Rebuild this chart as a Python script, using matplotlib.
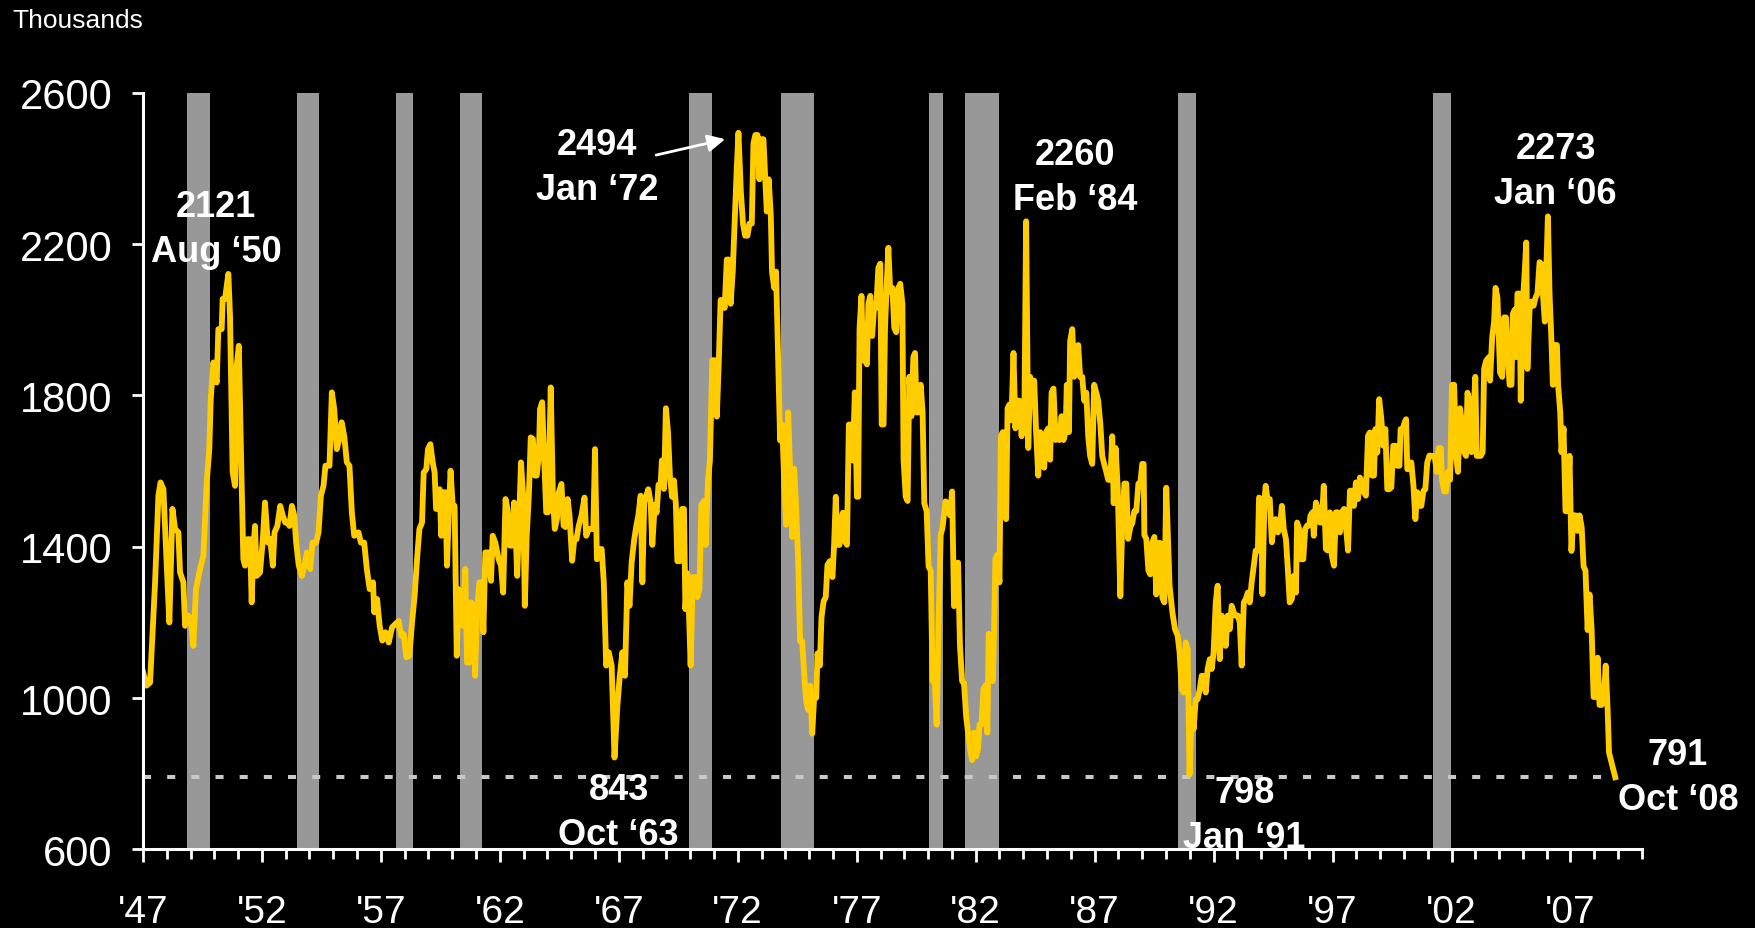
import matplotlib.pyplot as plt
import matplotlib.transforms as mtransforms
import numpy as np

# Housing starts, thousands: (decimal year, value)
starts_47_57 = [
    (1947.01, 1068), (1947.15, 1033), (1947.30, 1041), (1947.51, 1306), (1947.65, 1535),
    (1947.74, 1570), (1947.86, 1552), (1947.97, 1394), (1948.11, 1200), (1948.24, 1500),
    (1948.35, 1447), (1948.49, 1438), (1948.56, 1332), (1948.70, 1306), (1948.77, 1191),
    (1948.91, 1218), (1949.01, 1210), (1949.12, 1138), (1949.23, 1288), (1949.40, 1341),
    (1949.54, 1376), (1949.68, 1570), (1949.79, 1658), (1949.85, 1790), (1949.96, 1887),
    (1950.10, 1834), (1950.17, 1975), (1950.31, 1975), (1950.35, 2055), (1950.45, 2055),
    (1950.59, 2121), (1950.66, 2011), (1950.77, 1597), (1950.87, 1561), (1950.94, 1878),
    (1951.03, 1931), (1951.13, 1623), (1951.22, 1367), (1951.29, 1350), (1951.39, 1420),
    (1951.50, 1420), (1951.57, 1253), (1951.64, 1394), (1951.71, 1455), (1951.78, 1323),
    (1951.92, 1332), (1952.04, 1420), (1952.13, 1517), (1952.25, 1411), (1952.35, 1420),
    (1952.46, 1350), (1952.53, 1438), (1952.65, 1455), (1952.77, 1508), (1952.88, 1482),
    (1952.98, 1464), (1953.07, 1464), (1953.16, 1455), (1953.26, 1508), (1953.36, 1482),
    (1953.44, 1411), (1953.55, 1350), (1953.68, 1323), (1953.79, 1350), (1953.89, 1385),
    (1954.03, 1341), (1954.13, 1411), (1954.28, 1411), (1954.38, 1438), (1954.48, 1535),
    (1954.59, 1561), (1954.67, 1614), (1954.84, 1614), (1954.94, 1808), (1955.04, 1764),
    (1955.15, 1658), (1955.25, 1685), (1955.35, 1729), (1955.46, 1693), (1955.57, 1623),
    (1955.68, 1614), (1955.78, 1491), (1955.88, 1429), (1956.06, 1438), (1956.16, 1411),
    (1956.30, 1411), (1956.41, 1341), (1956.53, 1288), (1956.67, 1306), (1956.72, 1227),
    (1956.84, 1262), (1956.95, 1191), (1957.06, 1152), (1957.19, 1174), (1957.33, 1147),
    (1957.47, 1187), (1957.61, 1196), (1957.75, 1204), (1957.85, 1165),
]
starts_58_68 = [
    (1957.96, 1169), (1958.07, 1108), (1958.20, 1112), (1958.31, 1200), (1958.42, 1271),
    (1958.52, 1367), (1958.62, 1447), (1958.73, 1464), (1958.80, 1596), (1958.91, 1605),
    (1958.98, 1658), (1959.08, 1671), (1959.18, 1623), (1959.26, 1596), (1959.32, 1500),
    (1959.40, 1500), (1959.47, 1552), (1959.54, 1429), (1959.61, 1544), (1959.71, 1544),
    (1959.78, 1350), (1959.85, 1482), (1959.93, 1601), (1960.02, 1508), (1960.10, 1508),
    (1960.19, 1112), (1960.27, 1288), (1960.36, 1271), (1960.45, 1191), (1960.55, 1341),
    (1960.62, 1094), (1960.72, 1094), (1960.80, 1253), (1960.89, 1244), (1960.96, 1059),
    (1961.04, 1227), (1961.14, 1306), (1961.23, 1306), (1961.31, 1174), (1961.39, 1385),
    (1961.53, 1385), (1961.63, 1310), (1961.70, 1429), (1961.81, 1411), (1961.95, 1367),
    (1962.05, 1350), (1962.14, 1279), (1962.24, 1526), (1962.32, 1500), (1962.42, 1403),
    (1962.52, 1403), (1962.60, 1517), (1962.66, 1447), (1962.73, 1323), (1962.80, 1447),
    (1962.89, 1623), (1962.98, 1535), (1963.05, 1244), (1963.13, 1429), (1963.22, 1535),
    (1963.30, 1689), (1963.39, 1685), (1963.47, 1588), (1963.55, 1588), (1963.64, 1640),
    (1963.69, 1764), (1963.78, 1782), (1963.86, 1640), (1963.95, 1491), (1964.03, 1491),
    (1964.14, 1821), (1964.23, 1535), (1964.31, 1447), (1964.40, 1473), (1964.48, 1544),
    (1964.59, 1566), (1964.68, 1456), (1964.76, 1452), (1964.85, 1526), (1964.93, 1482),
    (1965.04, 1363), (1965.13, 1420), (1965.22, 1420), (1965.32, 1456), (1965.43, 1482),
    (1965.56, 1530), (1965.63, 1429), (1965.74, 1447), (1965.86, 1447), (1965.93, 1447),
    (1966.00, 1658), (1966.08, 1367), (1966.16, 1394), (1966.28, 1394), (1966.37, 1306),
    (1966.47, 1086), (1966.58, 1121), (1966.70, 1086), (1966.82, 843), (1966.94, 980),
    (1967.03, 1050), (1967.15, 1121), (1967.26, 1059), (1967.36, 1306), (1967.45, 1244),
    (1967.54, 1359), (1967.65, 1420), (1967.74, 1456), (1967.82, 1482), (1967.92, 1535),
    (1967.99, 1306), (1968.07, 1517), (1968.16, 1535), (1968.24, 1552), (1968.34, 1517),
]
starts_68_79 = [
    (1968.41, 1405), (1968.51, 1511), (1968.59, 1490), (1968.67, 1564), (1968.76, 1564),
    (1968.81, 1628), (1968.90, 1553), (1968.98, 1766), (1969.07, 1702), (1969.15, 1585),
    (1969.24, 1532), (1969.32, 1575), (1969.40, 1511), (1969.46, 1362), (1969.57, 1362),
    (1969.66, 1500), (1969.74, 1500), (1969.80, 1235), (1969.88, 1330), (1969.95, 1224),
    (1970.02, 1086), (1970.11, 1320), (1970.20, 1320), (1970.30, 1267), (1970.39, 1288),
    (1970.47, 1511), (1970.58, 1521), (1970.65, 1405), (1970.75, 1575), (1970.83, 1628),
    (1970.93, 1893), (1971.03, 1893), (1971.12, 1744), (1971.20, 1882), (1971.28, 2052),
    (1971.37, 2052), (1971.45, 2031), (1971.54, 2159), (1971.62, 2159), (1971.70, 2042),
    (1971.79, 2127), (1971.87, 2254), (1971.96, 2403), (1972.03, 2494), (1972.13, 2339),
    (1972.22, 2254), (1972.31, 2222), (1972.41, 2222), (1972.49, 2254), (1972.59, 2254),
    (1972.66, 2466), (1972.74, 2488), (1972.83, 2488), (1972.91, 2371), (1972.99, 2477),
    (1973.08, 2477), (1973.16, 2371), (1973.22, 2286), (1973.30, 2371), (1973.39, 2275),
    (1973.44, 2127), (1973.53, 2084), (1973.61, 2127), (1973.70, 1893), (1973.78, 1681),
    (1973.87, 1723), (1973.95, 1575), (1974.03, 1458), (1974.12, 1755), (1974.20, 1606),
    (1974.29, 1426), (1974.37, 1606), (1974.45, 1511), (1974.54, 1362), (1974.62, 1150),
    (1974.71, 1150), (1974.79, 1065), (1974.88, 990), (1974.96, 969), (1975.04, 1033),
    (1975.13, 906), (1975.21, 1001), (1975.30, 1001), (1975.35, 1118), (1975.45, 1086),
    (1975.52, 1214), (1975.61, 1256), (1975.70, 1267), (1975.77, 1352), (1975.87, 1362),
    (1975.98, 1320), (1976.05, 1405), (1976.12, 1532), (1976.19, 1405), (1976.28, 1405),
    (1976.33, 1468), (1976.42, 1490), (1976.50, 1415), (1976.59, 1405), (1976.67, 1723),
    (1976.76, 1723), (1976.84, 1628), (1976.92, 1808), (1977.01, 1532), (1977.06, 1532),
    (1977.12, 1978), (1977.20, 2063), (1977.26, 1893), (1977.34, 1893), (1977.43, 1882),
    (1977.49, 2042), (1977.57, 2063), (1977.65, 1957), (1977.74, 2042), (1977.82, 2031),
    (1977.91, 2137), (1977.99, 2148), (1978.05, 1723), (1978.13, 1723), (1978.19, 1978),
    (1978.27, 2105), (1978.33, 2190), (1978.41, 2074), (1978.50, 2084), (1978.58, 1978),
    (1978.66, 1967), (1978.75, 2084), (1978.83, 2095), (1978.92, 2042), (1978.97, 1628),
    (1979.06, 1532), (1979.14, 1521),
]
starts_79_90 = [
    (1979.21, 1849), (1979.30, 1745), (1979.38, 1901), (1979.45, 1912), (1979.52, 1755),
    (1979.60, 1755), (1979.69, 1828), (1979.77, 1755), (1979.84, 1515), (1979.94, 1494),
    (1980.02, 1348), (1980.11, 1337), (1980.19, 1045), (1980.28, 1045), (1980.36, 930),
    (1980.45, 1222), (1980.53, 1431), (1980.61, 1452), (1980.73, 1520), (1980.84, 1515),
    (1980.92, 1483), (1981.01, 1546), (1981.09, 1243), (1981.18, 1253), (1981.26, 1358),
    (1981.34, 1139), (1981.43, 1045), (1981.51, 1039), (1981.60, 951), (1981.68, 909),
    (1981.76, 867), (1981.85, 836), (1981.93, 909), (1982.02, 846), (1982.10, 867),
    (1982.16, 930), (1982.24, 930), (1982.33, 1024), (1982.41, 1034), (1982.49, 909),
    (1982.55, 1170), (1982.63, 1159), (1982.72, 1045), (1982.77, 1170), (1982.83, 1368),
    (1982.91, 1379), (1983.00, 1306), (1983.06, 1692), (1983.14, 1703), (1983.21, 1504),
    (1983.28, 1473), (1983.34, 1766), (1983.42, 1776), (1983.50, 1734), (1983.59, 1912),
    (1983.67, 1713), (1983.76, 1786), (1983.84, 1786), (1983.93, 1692), (1983.98, 1734),
    (1984.05, 1766), (1984.12, 2260), (1984.21, 1661), (1984.29, 1849), (1984.37, 1828),
    (1984.46, 1839), (1984.54, 1703), (1984.63, 1588), (1984.71, 1703), (1984.79, 1692),
    (1984.88, 1609), (1984.96, 1703), (1985.05, 1713), (1985.13, 1630), (1985.19, 1807),
    (1985.27, 1818), (1985.36, 1682), (1985.44, 1703), (1985.52, 1682), (1985.61, 1745),
    (1985.69, 1682), (1985.78, 1703), (1985.83, 1828), (1985.92, 1703), (1985.97, 1943),
    (1986.06, 1975), (1986.14, 1849), (1986.23, 1870), (1986.31, 1933), (1986.39, 1849),
    (1986.48, 1849), (1986.56, 1786), (1986.65, 1807), (1986.73, 1692), (1986.81, 1640),
    (1986.90, 1619), (1986.98, 1828), (1987.07, 1807), (1987.15, 1786), (1987.24, 1724),
    (1987.32, 1640), (1987.40, 1619), (1987.49, 1598), (1987.57, 1577), (1987.66, 1577),
    (1987.74, 1692), (1987.80, 1515), (1987.88, 1661), (1987.97, 1556), (1988.08, 1269),
    (1988.16, 1452), (1988.25, 1567), (1988.33, 1567), (1988.41, 1421), (1988.50, 1452),
    (1988.58, 1462), (1988.67, 1494), (1988.75, 1494), (1988.84, 1567), (1988.92, 1567),
    (1989.00, 1619), (1989.06, 1619), (1989.09, 1431), (1989.17, 1421), (1989.26, 1337),
    (1989.34, 1327), (1989.42, 1410), (1989.51, 1426), (1989.59, 1274), (1989.68, 1410),
    (1989.76, 1410), (1989.85, 1264), (1989.93, 1253), (1990.01, 1556),
]
starts_90_01 = [
    (1990.15, 1297), (1990.27, 1226), (1990.38, 1182), (1990.49, 1165), (1990.57, 1121),
    (1990.66, 1024), (1990.74, 1015), (1990.83, 1147), (1990.91, 1130), (1990.99, 798),
    (1991.08, 971), (1991.16, 918), (1991.25, 997), (1991.33, 997), (1991.42, 1024),
    (1991.50, 1059), (1991.58, 1059), (1991.67, 1015), (1991.75, 1077), (1991.84, 1103),
    (1991.92, 1077), (1992.00, 1121), (1992.09, 1253), (1992.17, 1297), (1992.26, 1103),
    (1992.34, 1218), (1992.43, 1200), (1992.51, 1138), (1992.59, 1218), (1992.68, 1182),
    (1992.76, 1244), (1992.85, 1226), (1992.93, 1218), (1993.02, 1218), (1993.10, 1200),
    (1993.18, 1086), (1993.27, 1253), (1993.35, 1262), (1993.44, 1279), (1993.52, 1253),
    (1993.60, 1306), (1993.69, 1350), (1993.77, 1390), (1993.86, 1390), (1993.91, 1530),
    (1994.00, 1526), (1994.05, 1275), (1994.14, 1526), (1994.19, 1561), (1994.28, 1517),
    (1994.36, 1526), (1994.45, 1412), (1994.53, 1464), (1994.61, 1473), (1994.70, 1438),
    (1994.78, 1447), (1994.87, 1508), (1994.95, 1447), (1995.04, 1420), (1995.12, 1341),
    (1995.20, 1253), (1995.29, 1262), (1995.37, 1323), (1995.46, 1279), (1995.51, 1464),
    (1995.60, 1447), (1995.68, 1367), (1995.77, 1367), (1995.85, 1447), (1995.93, 1456),
    (1996.02, 1456), (1996.07, 1482), (1996.16, 1491), (1996.21, 1429), (1996.30, 1517),
    (1996.38, 1500), (1996.47, 1464), (1996.55, 1464), (1996.63, 1561), (1996.72, 1394),
    (1996.80, 1390), (1996.89, 1491), (1996.97, 1376), (1997.06, 1350), (1997.14, 1491),
    (1997.22, 1491), (1997.31, 1438), (1997.39, 1491), (1997.48, 1500), (1997.56, 1456),
    (1997.65, 1390), (1997.73, 1548), (1997.81, 1548), (1997.90, 1508), (1997.98, 1570),
    (1998.07, 1526), (1998.15, 1583), (1998.23, 1570), (1998.32, 1544), (1998.40, 1535),
    (1998.49, 1693), (1998.57, 1702), (1998.66, 1588), (1998.74, 1588), (1998.80, 1711),
    (1998.88, 1649), (1998.96, 1790), (1999.05, 1737), (1999.13, 1667), (1999.22, 1711),
    (1999.30, 1552), (1999.38, 1552), (1999.47, 1557), (1999.55, 1667), (1999.64, 1667),
    (1999.72, 1614), (1999.81, 1614), (1999.86, 1711), (1999.95, 1711), (2000.03, 1729),
    (2000.09, 1737), (2000.14, 1605), (2000.23, 1605), (2000.31, 1623), (2000.40, 1561),
    (2000.48, 1473), (2000.56, 1544), (2000.65, 1508), (2000.73, 1508), (2000.82, 1548),
    (2000.90, 1552), (2000.98, 1623), (2001.07, 1641),
]
starts_01_08 = [
    (2001.21, 1640), (2001.29, 1640), (2001.38, 1598), (2001.46, 1661), (2001.55, 1661),
    (2001.60, 1577), (2001.69, 1546), (2001.77, 1546), (2001.85, 1598), (2001.94, 1577),
    (2002.02, 1828), (2002.11, 1828), (2002.19, 1640), (2002.27, 1598), (2002.36, 1766),
    (2002.44, 1724), (2002.53, 1650), (2002.61, 1640), (2002.67, 1807), (2002.75, 1786),
    (2002.84, 1650), (2002.92, 1745), (2003.00, 1849), (2003.06, 1640), (2003.14, 1640),
    (2003.23, 1640), (2003.31, 1650), (2003.37, 1870), (2003.45, 1891), (2003.57, 1901),
    (2003.62, 1839), (2003.71, 1954), (2003.79, 1995), (2003.85, 2084), (2003.93, 2058),
    (2003.99, 1954), (2004.04, 1860), (2004.13, 1849), (2004.21, 2006), (2004.29, 2006),
    (2004.35, 1922), (2004.44, 1828), (2004.52, 1828), (2004.58, 2016), (2004.66, 2027),
    (2004.72, 1901), (2004.77, 2069), (2004.86, 2069), (2004.91, 1786), (2005.00, 2048),
    (2005.08, 2131), (2005.14, 2204), (2005.19, 1870), (2005.28, 2027), (2005.36, 2048),
    (2005.45, 2037), (2005.53, 2058), (2005.61, 2069), (2005.70, 2152), (2005.78, 2147),
    (2005.84, 2069), (2005.92, 1995), (2005.98, 2121), (2006.05, 2273), (2006.12, 2069),
    (2006.20, 1943), (2006.26, 1828), (2006.34, 1933), (2006.43, 1933), (2006.48, 1828),
    (2006.57, 1755), (2006.62, 1650), (2006.71, 1713), (2006.79, 1494), (2006.88, 1494),
    (2006.96, 1640), (2007.04, 1389), (2007.13, 1483), (2007.21, 1483), (2007.30, 1442),
    (2007.38, 1483), (2007.47, 1452), (2007.55, 1348), (2007.63, 1337), (2007.72, 1180),
    (2007.80, 1274), (2007.89, 1180), (2007.97, 1003), (2008.05, 1003), (2008.14, 1107),
    (2008.22, 982), (2008.31, 982), (2008.39, 992), (2008.48, 1086), (2008.56, 971),
    (2008.62, 856), (2008.70, 836), (2008.78, 815), (2008.88, 791),
]

# recessions (shaded)
recession_start = [1948.87, 1953.46, 1957.62, 1960.31, 1969.94, 1973.81, 1980.04, 1981.54, 1990.52, 2001.21]
recession_end = [1949.83, 1954.40, 1958.36, 1961.23, 1970.93, 1975.22, 1980.61, 1982.98, 1991.28, 2001.97]

# callouts
label_values = ['2121', '2494', '2260', '2273', '843', '798', '791']
label_dates = ['Aug \u201850', 'Jan \u201872', 'Feb \u201884', 'Jan \u201806',
               'Oct \u201863', 'Jan \u201891', 'Oct \u201808']
label_x = [1950.07, 1966.09, 1986.17, 2006.37, 1966.99, 1993.30, 2011.52]
label_y = [2274, 2438, 2411, 2428, 733, 726, 826]
arrow_tail = (1968.57, 2435)
arrow_tip = (1971.47, 2477)

low_level = 791
year_ticks = list(range(1947, 2008, 5))
year_labels = ["'47", "'52", "'57", "'62", "'67", "'72", "'77", "'82", "'87", "'92", "'97", "'02", "'07"]

data = np.array(starts_47_57 + starts_58_68 + starts_68_79 + starts_79_90 + starts_90_01 + starts_01_08)
x, y = data[:, 0], data[:, 1]

plt.rcParams['font.family'] = ['Liberation Sans', 'DejaVu Sans']

fig = plt.figure(figsize=(17.56, 9.29), dpi=100, facecolor='black')
ax = fig.add_axes([0.0814, 0.0845, 0.8536, 0.8147])
ax.set_facecolor('black')

for s, e in zip(recession_start, recession_end):
    ax.axvspan(s, e, color='#989898', lw=0, zorder=1)

ax.hlines(low_level, 1947, x[-1], colors='#c8c8c8', linestyles=(0, (2.0, 4.0)), lw=2.9, zorder=2)
ax.plot(x, y, color='#ffcc00', lw=4.2, zorder=3, solid_joinstyle='round')

ax.set_xlim(1947, 2010)
ax.set_ylim(600, 2600)
for side in ['top', 'right']:
    ax.spines[side].set_visible(False)
for side in ['left', 'bottom']:
    ax.spines[side].set_color('white')
    ax.spines[side].set_linewidth(2.2)
    ax.spines[side].set_zorder(4)

ax.set_yticks(range(600, 2601, 400))
ax.set_xticks(year_ticks, year_labels)
ax.set_xticks(range(1947, 2011), minor=True)
ax.tick_params(axis='y', colors='white', labelsize=30, length=8, width=2, pad=14)
ax.tick_params(axis='x', which='major', colors='white', labelsize=28, length=9, width=2, pad=23)
ax.tick_params(axis='x', which='minor', colors='white', length=7, width=2)

below = mtransforms.offset_copy(ax.transData, fig=fig, y=-32.4, units='points')
for val, date, lx, ly in zip(label_values, label_dates, label_x, label_y):
    ax.text(lx, ly, val, ha='center', va='baseline', fontsize=26, fontweight='bold',
            color='white', zorder=6)
    ax.text(lx, ly, date, transform=below, ha='center', va='baseline', fontsize=26,
            fontweight='bold', color='white', zorder=6)

ax.annotate('', xy=arrow_tip, xytext=arrow_tail,
            arrowprops=dict(arrowstyle='-|>', color='white', lw=2, mutation_scale=26,
                            shrinkA=0, shrinkB=0))

fig.text(12 / 1756, 1 - 28 / 929, 'Thousands', fontsize=19, color='white',
         ha='left', va='baseline')

fig.savefig('out.png', dpi=100, facecolor='black')
